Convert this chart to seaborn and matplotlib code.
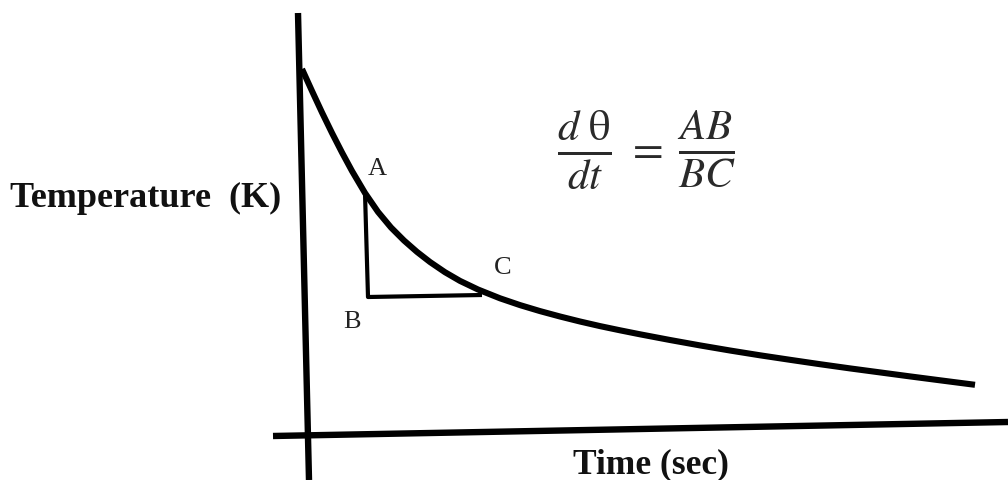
import numpy as np
import pandas as pd
import matplotlib
matplotlib.use("Agg")
import matplotlib.pyplot as plt
import seaborn as sns

# cooling curve (pixel coordinates, y grows downward)
curve_x = [302, 312, 322, 332, 342, 352, 365, 378, 391, 404, 417, 430, 445, 460, 478,
           500, 520, 540, 560, 580, 600, 620, 640, 670, 700, 730, 760, 790, 820, 850,
           880, 910, 940, 975]
curve_y = [70, 92, 113.5, 134, 153.5, 172, 194, 212.9, 228.5, 241.5, 252.9, 263, 273.2,
           281.9, 290.5, 299.3, 306.1, 312.1, 317.5, 322.5, 327.1, 331.3, 335.3, 341,
           346.4, 351.5, 356.3, 360.8, 365.2, 369.4, 373.4, 377.4, 381.3, 385.8]

# hand drawn axes
y_axis_x = [298, 309]
y_axis_y = [14, 481]
x_axis_x = [273, 1008]
x_axis_y = [437, 423]

# slope triangle A -> B -> C
tri_x = [365, 368, 482]
tri_y = [194, 298, 296]
tri_labels = ["A", "B", "C"]
label_pos = [(377, 169), (352, 322), (503, 268)]


def draw():
    sns.set_theme(style="white")
    plt.rcParams["font.family"] = ["Liberation Serif", "DejaVu Serif"]
    plt.rcParams["mathtext.fontset"] = "stix"

    fig = plt.figure(figsize=(10.08, 4.81), dpi=100)
    ax = fig.add_axes([0, 0, 1, 1])

    df = pd.DataFrame({"x": curve_x, "y": curve_y})
    line_kw = dict(color="black", sort=False, solid_joinstyle="round", solid_capstyle="butt")
    sns.lineplot(data=df, x="x", y="y", ax=ax, linewidth=4.4, **line_kw)

    sns.lineplot(x=y_axis_x, y=y_axis_y, ax=ax, linewidth=4.6, **line_kw)
    sns.lineplot(x=x_axis_x, y=x_axis_y, ax=ax, linewidth=4.6, **line_kw)
    sns.lineplot(x=tri_x, y=tri_y, ax=ax, linewidth=3.0, **line_kw)

    for lab, (px, py) in zip(tri_labels, label_pos):
        ax.text(px, py, lab, fontsize=19, ha="center", va="center", color="#222222")

    ax.text(10, 207, "Temperature  (K)", fontsize=26, fontweight="bold",
            ha="left", va="baseline", color="#111111")
    ax.text(573, 473, "Time (sec)", fontsize=25.5, fontweight="bold",
            ha="left", va="baseline", color="#111111")

    # d theta / dt = AB / BC, split so the equals sign can be smaller
    eq_color = "#2a2a2a"
    ax.text(584, 150, r"$\frac{d\ \mathrm{\theta}}{dt}$", fontsize=44,
            ha="center", va="center", color=eq_color)
    ax.text(644, 150, r"$=$", fontsize=32, ha="center", va="center", color=eq_color)
    ax.text(706, 150, r"$\frac{AB}{BC}$", fontsize=44,
            ha="center", va="center", color=eq_color)

    ax.set_xlim(0, 1008)
    ax.set_ylim(481, 0)
    ax.axis("off")

    fig.savefig("out.png", dpi=100, facecolor="white")


if __name__ == "__main__":
    draw()
